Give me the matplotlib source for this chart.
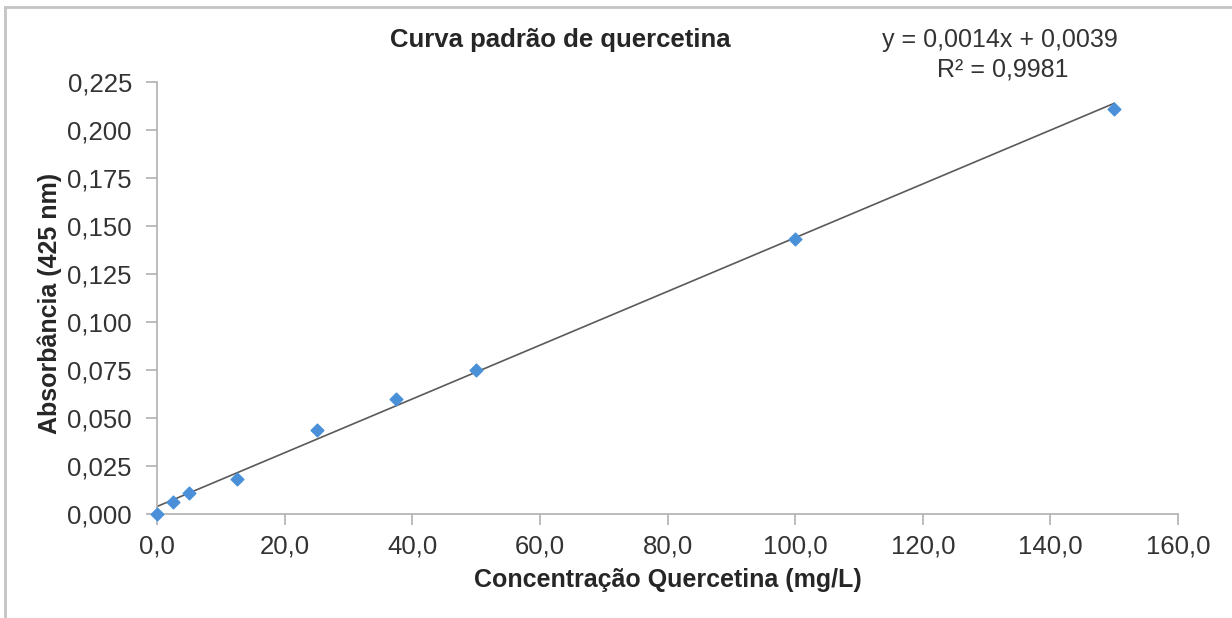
import matplotlib
matplotlib.use("Agg")
import matplotlib.pyplot as plt
import numpy as np
from matplotlib.lines import Line2D

plt.rcParams['font.family'] = ['Liberation Sans', 'DejaVu Sans']

conc = [0.0, 2.5, 5.0, 12.5, 25.0, 37.5, 50.0, 100.0, 150.0]
absorb = [0.000, 0.006, 0.011, 0.018, 0.044, 0.060, 0.075, 0.143, 0.211]
slope = 0.0014
intercept = 0.0039
r2 = 0.9981
xticks = [0, 20, 40, 60, 80, 100, 120, 140, 160]
yticks = [0.000, 0.025, 0.050, 0.075, 0.100, 0.125, 0.150, 0.175, 0.200, 0.225]

W, H = 1232, 618
fig = plt.figure(figsize=(W/100, H/100), dpi=100)
ax = fig.add_axes([157/W, 1-514/H, (1178-157)/W, (514-82)/H])

# outer chart frame (top and left edges visible)
fig.add_artist(Line2D([5/W, 1.0], [1-7/H, 1-7/H], transform=fig.transFigure,
                      color='#c4c4c4', linewidth=2))
fig.add_artist(Line2D([5/W, 5/W], [0.0, 1-7/H], transform=fig.transFigure,
                      color='#c4c4c4', linewidth=2))

xl = np.array([0.0, 150.0])
ax.plot(xl, slope*xl + intercept, color='#5a5a5a', linewidth=1.2, zorder=2)
ax.scatter(conc, absorb, marker='D', s=42, color='#4a90d9', edgecolors='#4a90d9',
           zorder=3, clip_on=False)

ax.set_xlim(0, 160)
ax.set_ylim(0, 0.225)
ax.set_xticks(xticks)
ax.set_yticks(yticks)
ax.set_xticklabels([f"{v:.1f}".replace('.', ',') for v in xticks])
ax.set_yticklabels([f"{v:.3f}".replace('.', ',') for v in yticks])
for s in ['top', 'right']:
    ax.spines[s].set_visible(False)
for s in ['left', 'bottom']:
    ax.spines[s].set_color('#b0b0b0')
    ax.spines[s].set_linewidth(1.2)
ax.tick_params(axis='both', colors='#b0b0b0', labelcolor='#333333', labelsize=18.5,
               length=8, width=1.2, direction='out')
ax.tick_params(axis='x', pad=7)
ax.tick_params(axis='y', pad=10)

fig.text(668/W, 1-580/H, 'Concentração Quercetina (mg/L)', ha='center', va='center',
         fontsize=18, fontweight='bold', color='#262626')
fig.text(50/W, 1-303/H, 'Absorbância (425 nm)', ha='center', va='center', rotation=90,
         fontsize=18, fontweight='bold', color='#262626')

fig.text(560/W, 1-40/H, 'Curva padrão de quercetina', ha='center', va='center',
         fontsize=18.5, fontweight='bold', color='#262626')
fig.text(1000/W, 1-40/H, f"y = {slope:.4f}x + {intercept:.4f}".replace('.', ','),
         ha='center', va='center', fontsize=18, color='#333333')
fig.text(1003/W, 1-70/H, f"R² = {r2:.4f}".replace('.', ','),
         ha='center', va='center', fontsize=18, color='#333333')

fig.savefig('out.png', dpi=100)
